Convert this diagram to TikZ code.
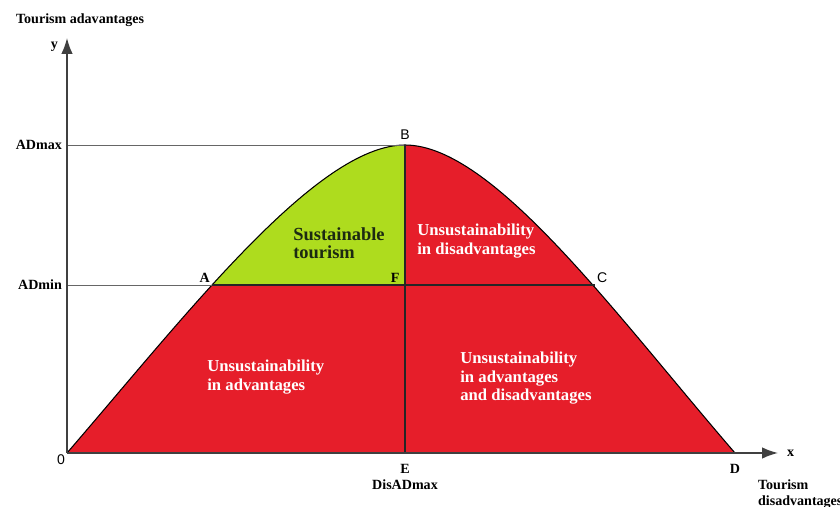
\documentclass[tikz,border=0pt]{standalone}
\usepackage{fontspec}
\setmainfont{Liberation Serif}
\newfontfamily\ptsans{Liberation Sans}
\usetikzlibrary{arrows.meta}
\definecolor{unsred}{HTML}{E61E2A}
\definecolor{susgreen}{HTML}{AEDC1E}
\definecolor{susdark}{HTML}{1C2A12}

\tikzset{
    axis/.style={draw=black!75, line width=0.9pt, -{Latex[length=9pt,width=6.5pt]}},
    level/.style={draw=black!60, line width=0.5pt},
    split/.style={draw=black!85, line width=0.9pt},
    ptlabel/.style={font=\bfseries\fontsize{8}{9}\selectfont, inner sep=1pt},
    sanslabel/.style={font=\ptsans\fontsize{8}{9}\selectfont, inner sep=1pt},
    zonetext/.style={font=\bfseries\fontsize{9.5}{10.3}\selectfont, align=left, anchor=north west, inner sep=0pt},
}

\begin{document}
\begin{tikzpicture}[x=0.02cm, y=0.02cm]
        % Levels of advantages
        \def\ADmaxlvl{308}
        \def\ADminlvl{168}
        \useasboundingbox (-67,-54) rectangle (773,453);

        % Key points of the curve
        \coordinate (O) at (0,0);
        \coordinate (B) at (338,\ADmaxlvl);
        \coordinate (E) at (338,0);
        \coordinate (D) at (668,0);
        \coordinate (A) at (145,\ADminlvl);
        \coordinate (C) at (528,\ADminlvl);
        \coordinate (F) at (338,\ADminlvl);
        \coordinate (ymax) at (0,\ADmaxlvl);
        \coordinate (ymin) at (0,\ADminlvl);
        \coordinate (ytip) at (0,415);
        \coordinate (xtip) at (711,0);

        % Whole area under the curve
        \fill[unsred] (O) .. controls (120,139) and (250,\ADmaxlvl) .. (B)
            .. controls (426,\ADmaxlvl) and (548,139) .. (D) -- cycle;

        % Sustainable part (left, above ADmin)
        \begin{scope}
            \clip (ymin) rectangle (338,330);
            \fill[susgreen] (O) .. controls (120,139) and (250,\ADmaxlvl) .. (B) -- (E) -- cycle;
        \end{scope}

        % Curve outline
        \draw[black, line width=0.6pt] (O) .. controls (120,139) and (250,\ADmaxlvl) .. (B)
            .. controls (426,\ADmaxlvl) and (548,139) .. (D);

        % Level lines and split
        \draw[level] (ymax) -- (B);
        \draw[level] (ymin) -- (A);
        \draw[split] (A) -- (C);
        \draw[split] (B) -- (E);

        % Axes
        \draw[axis] (O) -- (ytip);
        \draw[axis] (O) -- (xtip);

        % Axis labels
        \node[ptlabel, anchor=west] (ttop) at (-53,433) {Tourism adavantages};
        \node[ptlabel, anchor=east] (ylab) at (-7,406) {y};
        \node[ptlabel, right=4pt] (xlab) at (xtip) {x};
        \node[ptlabel, anchor=east] (admax) at (-3,\ADmaxlvl) {ADmax};
        \node[ptlabel, anchor=east] (admin) at (-3,\ADminlvl) {ADmin};
        \node[ptlabel, align=left, anchor=north west] (tdis) at (689,-25) {Tourism\\disadvantages};

        % Point labels
        \node[sanslabel, above=2pt] (lB) at (B) {B};
        \node[ptlabel, anchor=south east] (lA) at (A) {A};
        \node[ptlabel, anchor=south east] (lF) at ([xshift=-2pt]F) {F};
        \node[sanslabel, anchor=south west] (lC) at (C) {C};
        \node[sanslabel, anchor=north east] (lO) at (O) {0};
        \node[ptlabel, below=5pt] (lE) at (E) {E};
        \node[ptlabel, below=1.5pt] (ldis) at (lE.south) {DisADmax};
        \node[ptlabel, below=5pt] (lD) at (D) {D};

        % Zone texts
        \node[zonetext, text=susdark, font=\bfseries\fontsize{10.5}{10.5}\selectfont] (zsus) at (226,226) {Sustainable\\tourism};
        \node[zonetext, text=white] (zdis) at (350,229) {Unsustainability\\in disadvantages};
        \node[zonetext, text=white] (zadv) at (140,93) {Unsustainability\\in advantages};
        \node[zonetext, text=white] (zboth) at (393,101) {Unsustainability\\in advantages\\and disadvantages};
\end{tikzpicture}
\end{document}
